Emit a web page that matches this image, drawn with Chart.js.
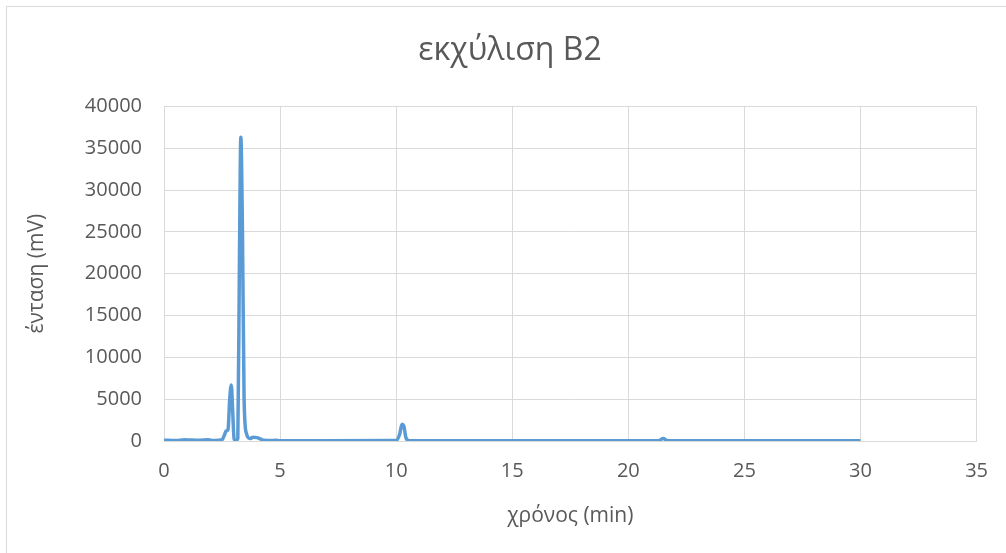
<!DOCTYPE html>
<html>
<head>
<meta charset="utf-8">
<script src="https://cdn.jsdelivr.net/npm/chart.js@4.4.0/dist/chart.umd.min.js"></script>
<style>
  html, body { margin: 0; padding: 0; background: #fff; }
  #wrap { width: 1006px; height: 553px; }
</style>
</head>
<body>
<div id="wrap"><canvas id="chromChart" width="1006" height="553"></canvas></div>
<script>
  // retention time (min) and detector signal (mV)
  var timeMin = [0, 0.5, 0.9, 1.1, 1.5, 1.9, 2.0, 2.2, 2.5, 2.6, 2.68, 2.76, 2.83, 2.9, 2.96,
                 3.02, 3.1, 3.18, 3.25, 3.31, 3.38, 3.45, 3.55, 3.7, 3.85, 4.0, 4.15, 4.3,
                 4.6, 4.8, 5.0, 7.0, 10.0, 10.15, 10.25, 10.33, 10.42, 10.55, 12.0, 21.3,
                 21.5, 21.7, 30.0];
  var signalMv = [100, 50, 150, 120, 80, 150, 100, 50, 150, 700, 1200, 1400, 5000, 6700, 3500,
                  200, 100, 300, 22000, 36300, 25000, 5000, 900, 300, 450, 400, 250, 80,
                  50, 100, 30, 30, 50, 800, 2000, 1800, 400, 40, 30, 40,
                  300, 40, 30];

  var xTicks = [0, 5, 10, 15, 20, 25, 30, 35];
  var yTicks = [0, 5000, 10000, 15000, 20000, 25000, 30000, 35000, 40000];

  var points = timeMin.map(function (t, i) { return { x: t, y: signalMv[i] }; });

  var textColor = '#595959';
  var gridColor = '#d9d9d9';
  var fontFamily = "'Open Sans', 'Liberation Sans', sans-serif";

  // light frame around the whole chart
  var framePlugin = {
    id: 'frame',
    afterDraw: function (chart) {
      var ctx = chart.ctx;
      ctx.save();
      ctx.strokeStyle = gridColor;
      ctx.lineWidth = 1;
      ctx.strokeRect(6.5, 6.5, 1010, 560);
      ctx.restore();
    }
  };

  new Chart(document.getElementById('chromChart').getContext('2d'), {
    type: 'line',
    data: {
      datasets: [{
        label: 'B2',
        data: points,
        borderColor: '#5b9bd5',
        borderWidth: 3.5,
        pointRadius: 0,
        cubicInterpolationMode: 'monotone',
        fill: false
      }]
    },
    options: {
      responsive: false,
      animation: false,
      layout: { padding: { left: 14, right: 0, top: 0, bottom: 0 } },
      plugins: {
        legend: { display: false },
        tooltip: { enabled: false },
        title: {
          display: true,
          text: 'εκχύλιση Β2',
          color: textColor,
          font: { family: fontFamily, size: 32, weight: 'normal' },
          padding: { top: 32, bottom: 36 }
        }
      },
      scales: {
        x: {
          type: 'linear',
          min: 0,
          max: 35,
          afterBuildTicks: function (axis) {
            axis.ticks = xTicks.map(function (v) { return { value: v }; });
          },
          afterFit: function (axis) { axis.height = 112; },
          grid: { color: gridColor, drawTicks: false },
          border: { color: gridColor },
          ticks: {
            color: textColor,
            padding: 18,
            font: { family: fontFamily, size: 20 },
            callback: function (v) { return String(v); }
          },
          title: {
            display: true,
            text: 'χρόνος (min)',
            color: textColor,
            font: { family: fontFamily, size: 21 },
            padding: { top: 0, bottom: 24 }
          }
        },
        y: {
          min: 0,
          max: 40000,
          afterBuildTicks: function (axis) {
            axis.ticks = yTicks.map(function (v) { return { value: v }; });
          },
          afterFit: function (axis) { axis.width = 150; },
          grid: { color: gridColor, drawTicks: false },
          border: { color: gridColor },
          ticks: {
            color: textColor,
            padding: 22,
            font: { family: fontFamily, size: 20 },
            callback: function (v) { return String(v); }
          },
          title: {
            display: true,
            text: 'ένταση (mV)',
            color: textColor,
            font: { family: fontFamily, size: 21 },
            padding: { top: 10, bottom: 0 }
          }
        },
        // empty right-hand margin so the plot ends before the frame edge
        margin: {
          position: 'right',
          display: true,
          afterFit: function (axis) { axis.width = 29; },
          grid: { display: false },
          border: { display: false },
          ticks: { display: false }
        }
      }
    },
    plugins: [framePlugin]
  });
</script>
</body>
</html>
